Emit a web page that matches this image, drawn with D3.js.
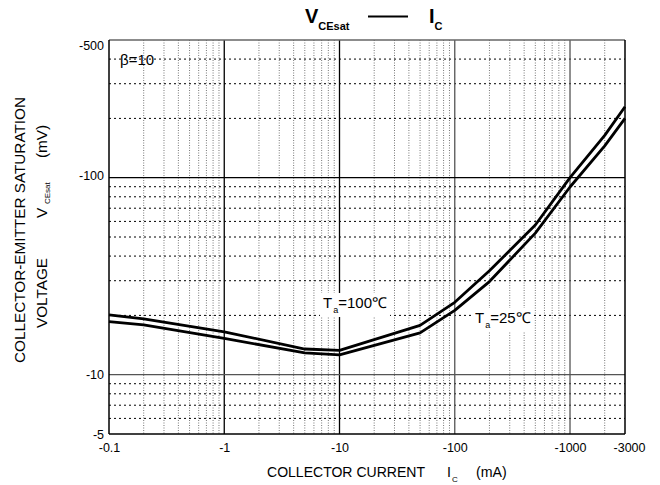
<!DOCTYPE html>
<html><head><meta charset="utf-8">
<script src="https://cdn.jsdelivr.net/npm/d3@7"></script>
<style>body{margin:0;background:#fff}svg{font-family:"Liberation Sans",Arial,sans-serif}</style>
</head><body><svg id="c" width="660" height="485"></svg>
<script>
// Data (magnitudes; axis labels are negative)
const currents = [0.1, 0.2, 1, 5, 10, 50, 100, 200, 500, 1000, 2000, 3000];
const vceUpper = [20.1, 19.2, 16.5, 13.5, 13.3, 17.8, 23.3, 33.7, 57.5, 100, 164, 229];
const vceLower = [18.6, 17.9, 15.3, 12.9, 12.6, 16.3, 21.2, 29.7, 52.3, 89.7, 145, 200];
const xTicks = [0.1, 1, 10, 100, 1000, 3000];
const xTickLabels = ["-0.1", "-1", "-10", "-100", "-1000", "-3000"];
const yTicks = [5, 10, 100, 500];
const yTickLabels = ["-5", "-10", "-100", "-500"];
const xMajor = [1, 10, 100, 1000];
const yMajor = [10, 100];

const svg = d3.select("#c");
const L = 109, R = 625, T = 40, B = 434;
const x = d3.scaleLog().domain([0.1, 3000]).range([L, R]);
const y = d3.scaleLog().domain([5, 500]).range([B, T]);

// minor grid values
const xMinor = [], yMinor = [];
for (let d = 0.1; d < 3000; d *= 10) for (let k = 2; k <= 9; k++) { const v = +(d * k).toPrecision(3); if (v < 3000) xMinor.push(v); }
for (let d = 1; d <= 100; d *= 10) for (let k = 2; k <= 9; k++) { const v = d * k; if (v > 5 && v < 500 && v !== 10 && v !== 100) yMinor.push(v); }

const g = svg.append("g");
g.selectAll(".xm").data(xMinor).join("line")
  .attr("x1", d => x(d)).attr("x2", d => x(d)).attr("y1", T).attr("y2", B)
  .attr("stroke", "#777").attr("stroke-width", 1).attr("stroke-dasharray", "1,1.5");
g.selectAll(".ym").data(yMinor).join("line")
  .attr("x1", L).attr("x2", R).attr("y1", d => y(d)).attr("y2", d => y(d))
  .attr("stroke", "#000").attr("stroke-width", 1).attr("stroke-dasharray", "2,3");
g.selectAll(".xM").data(xMajor).join("line")
  .attr("x1", d => x(d)).attr("x2", d => x(d)).attr("y1", T).attr("y2", B)
  .attr("stroke", (d,i) => i < 2 ? "#000" : "#555").attr("stroke-width", 1.3);
g.selectAll(".yM").data(yMajor).join("line")
  .attr("x1", L).attr("x2", R).attr("y1", d => y(d)).attr("y2", d => y(d))
  .attr("stroke", (d,i) => i === 0 ? "#555" : "#000").attr("stroke-width", 1.3);

// label boxes (white background)
function label(px, py, main, sub, rest, fs) {
  const t = svg.append("text").attr("x", px).attr("y", py).attr("font-size", fs);
  t.append("tspan").text(main);
  t.append("tspan").attr("font-size", fs * 0.6).attr("dy", 5).attr("dx", 1).text(sub);
  t.append("tspan").attr("dy", -5).text(rest);
  const bb = t.node().getBBox();
  svg.insert("rect", "text").attr("x", bb.x - 3).attr("y", bb.y - 1).attr("width", bb.width + 6).attr("height", bb.height + 3).attr("fill", "#fff");
  return t;
}
label(323, 308, "T", "a", "=100℃", 15);
label(475, 323, "T", "a", "=25℃", 15);

// curves
const line = d3.line().x(d => x(d[0])).y(d => y(d[1]));
[vceUpper, vceLower].forEach(s => {
  svg.append("path").datum(currents.map((c, i) => [c, s[i]]))
    .attr("d", line).attr("fill", "none").attr("stroke", "#000").attr("stroke-width", 2.8)
    .attr("stroke-linejoin", "round");
});

// frame
svg.append("line").attr("x1", L).attr("x2", R).attr("y1", T).attr("y2", T).attr("stroke", "#666").attr("stroke-width", 1.5);
svg.append("line").attr("x1", R).attr("x2", R).attr("y1", T).attr("y2", B).attr("stroke", "#000").attr("stroke-width", 1.5);
svg.append("line").attr("x1", L).attr("x2", L).attr("y1", T).attr("y2", B).attr("stroke", "#000").attr("stroke-width", 1.5);
svg.append("line").attr("x1", L).attr("x2", R).attr("y1", B).attr("y2", B).attr("stroke", "#000").attr("stroke-width", 1.5);

// axes
const xa = svg.append("g").attr("transform", `translate(0,${B})`)
  .call(d3.axisBottom(x).tickValues(xTicks).tickFormat((d, i) => xTickLabels[i]).tickSize(0).tickPadding(9.5));
const ya = svg.append("g").attr("transform", `translate(${L},0)`)
  .call(d3.axisLeft(y).tickValues(yTicks).tickFormat((d, i) => yTickLabels[i]).tickSize(0).tickPadding(5));
[xa, ya].forEach(a => { a.select(".domain").remove(); a.selectAll("text").attr("font-size", 12.5).attr("font-family", '"Liberation Sans",Arial,sans-serif').attr("fill", "#000"); });
ya.selectAll(".tick").filter(d => d === 500).select("text").attr("dy", "0.75em");
ya.selectAll(".tick").filter(d => d === 100).select("text").attr("dy", "0.15em");
xa.selectAll(".tick").filter(d => d === 3000).select("text").attr("dx", "4");

// beta label
svg.append("text").attr("x", 120).attr("y", 65).attr("font-size", 15).text("β=10");

// title
const tt = svg.append("text").attr("x", 305).attr("y", 23).attr("font-size", 20).attr("font-weight", "bold");
tt.append("tspan").text("V");
tt.append("tspan").attr("font-size", 11).attr("dy", 7).text("CEsat");
svg.append("line").attr("x1", 368).attr("x2", 408).attr("y1", 16.5).attr("y2", 16.5).attr("stroke", "#000").attr("stroke-width", 2);
const t2 = svg.append("text").attr("x", 429).attr("y", 23).attr("font-size", 20).attr("font-weight", "bold");
t2.append("tspan").text("I");
t2.append("tspan").attr("font-size", 11).attr("dy", 7).text("C");

// x axis title
svg.append("text").attr("x", 267).attr("y", 477).attr("font-size", 14.2).attr("textLength", 158).attr("lengthAdjust", "spacingAndGlyphs").text("COLLECTOR CURRENT");
svg.append("text").attr("x", 447).attr("y", 477).attr("font-size", 14.2).text("I");
svg.append("text").attr("x", 452).attr("y", 482).attr("font-size", 8).text("C");
svg.append("text").attr("x", 476).attr("y", 477).attr("font-size", 14.2).text("(mA)");

// y axis title (rotated)
const yt = svg.append("g").attr("transform", "rotate(-90)");
yt.append("text").attr("x", -230).attr("y", 25).attr("text-anchor", "middle").attr("font-size", 15.3).text("COLLECTOR-EMITTER SATURATION");
yt.append("text").attr("x", -328).attr("y", 47).attr("font-size", 15.3).text("VOLTAGE");
yt.append("text").attr("x", -218).attr("y", 47).attr("font-size", 15.3).text("V");
yt.append("text").attr("x", -204).attr("y", 50).attr("font-size", 8).text("CEsat");
yt.append("text").attr("x", -158).attr("y", 47).attr("font-size", 15.3).text("(mV)");
</script></body></html>
